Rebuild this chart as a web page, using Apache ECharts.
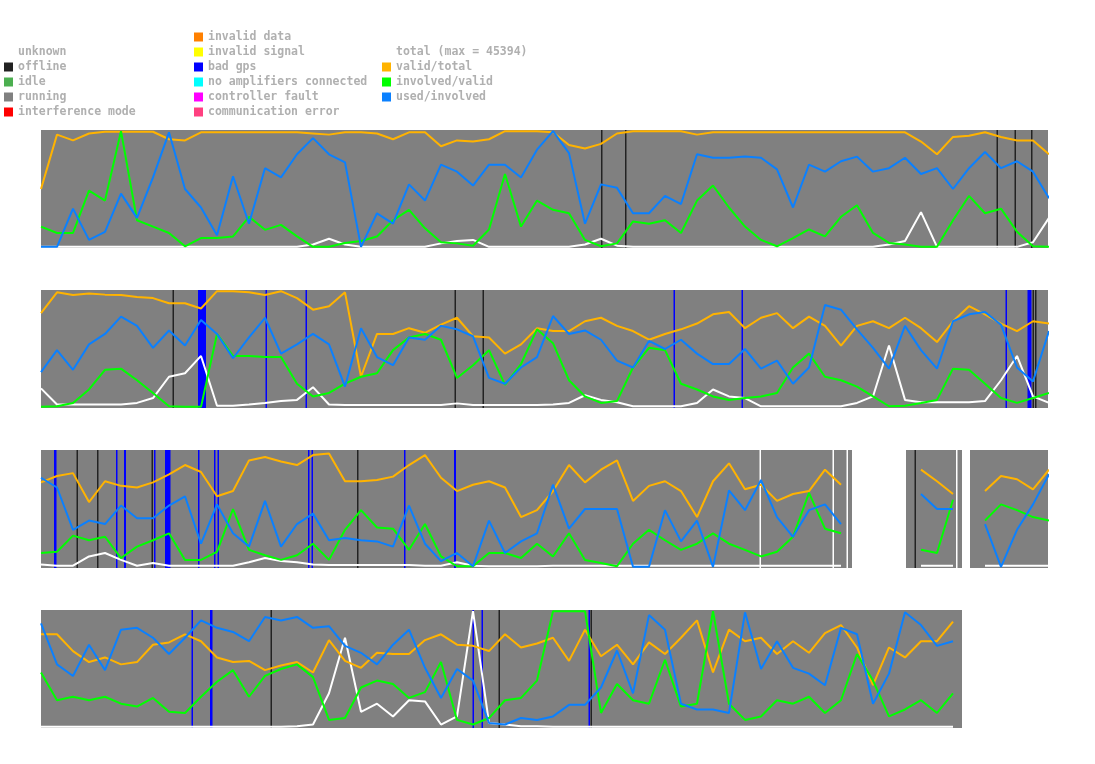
<!DOCTYPE html>
<html>
<head>
<meta charset="utf-8">
<script src="https://cdn.jsdelivr.net/npm/echarts@6/dist/echarts.min.js"></script>
<title>status</title>
</head>
<body style="margin:0;background:#fff">
<div id="main" style="width:1095px;height:764px"></div>
<script>
// sample spacing along each panel (time units)
var STEP = 16;
var SPAN = 1007;

// status names + colours (legend order)
var statusNames = ['unknown', 'offline', 'idle', 'running', 'interference mode',
  'invalid data', 'invalid signal', 'bad gps', 'no amplifiers connected', 'controller fault', 'communication error'];
var statusColors = ['#ffffff', '#222222', '#4caf50', '#808080', '#ff0000',
  '#ff8000', '#ffff00', '#0000ff', '#00ffff', '#ff00ff', '#ff4080'];

var lineNames = ['total (max = 45394)', 'valid/total', 'involved/valid', 'used/involved'];
var lineColors = ['#ffffff', '#ffb300', '#00ff00', '#0a80ff'];

// status intervals per panel [start, end]
var running = [
  [[0, 1007]],
  [[0, 1007]],
  [[0, 811], [865, 921], [929, 1007]],
  [[0, 921]]
];
var offline = [
  [[560, 561.5], [584, 585.5], [955.5, 957], [973.5, 975], [990, 991.5]],
  [[131.5, 133], [413.5, 415], [441.5, 443], [991.5, 993], [994, 995.5]],
  [[35.5, 37], [56, 57.5], [110.5, 112], [316, 317.5], [873.5, 875]],
  [[229.5, 231], [457.5, 459], [549.5, 551]]
];
var badGps = [
  [],
  [[157, 165], [224.5, 226], [264.5, 266], [632.5, 634], [700.5, 702], [964.5, 966], [986.5, 990.5]],
  [[13, 15.5], [75, 76.5], [83, 85], [113, 114.5], [124, 129.5], [157, 158.5], [173, 174.5], [176.5, 178],
   [267, 268.5], [270.5, 272], [363, 364.5], [413, 415]],
  [[150.5, 152], [169, 171.5], [431.5, 433], [440.5, 442], [547.5, 549]]
];
var unknown = [
  [], [],
  [[718.5, 720], [791.5, 793], [805.5, 807], [915, 916.5]],
  []
];

// line values (percent of panel height), one value every STEP units
var total1 = [0,0,0,0,0,0,0,0,0,0,0,0,0,0,0,0,0,2,7,2,0,0,0,0,0,3,5,6,0,0,0,0,
  0,0,2,7,1,0,0,0,0,0,0,0,0,0,0,0,0,0,0,0,0,2,5,30,0,0,0,0,0,0,4,25];
var valid1 = [50,97,92,98,99.5,99.5,99.5,99.5,93,92,99,99,99,99,99,99,99,98,97,99,99,98,93,99,99,87,92,91,93,100,100,100,
  99,88,85,89,98,100,100,100,100,97,99,99,99,99,99,99,99,99,99,99,99,99,99,91,80,95,96,99,95,92,92,80];
var involved1 = [17.5,12,12,48.6,40,100,23,17.5,12,0.5,7.6,7.6,9,26,14.7,19,9,0,0,3.4,5,9,23,32,16,4,3,1,15,63,17.5,40,
  32,29,6,0.5,3,22,20,23,12,40,53,34,17.5,6,0.5,7.6,15,9,26,36,12,3.4,2,0,0,23,44,29,33,13,0.5,0];
var used1 = [0,0,33,6,13,46,25,60,99,50,34,10,61,20,68,60,80,94,80,73,0,29,20,54,40,71,65,53,71,71,60,84,
  100,81,20,54,51,29,29,44,37,80,77,77,78,77,67,34,71,65,74,78,65,68,77,63,68,50,68,82,68,74,65,42];

var total2 = [16,2,2,2,2,2,3.4,7.6,26,29,44,1,1,2,3.4,5,6,17,2,1.5,1.5,1.5,1.5,1.5,1.5,1.5,3,1.5,1.5,1.5,1.5,1.5,
  2,3.4,10,6,4,0.5,0.5,0.5,0.5,3.4,15,9,7.6,0.5,0.5,0.5,0.5,0.5,0.5,3.4,9,53,6,4,4,4,4,5,23,44,9,3.4];
var valid2 = [81,99,96.6,98,97,96.6,95,94,89.5,89.5,85,100,100,99,96.6,100,94,84,87,99,26,63,63,68,64,71,77,61,60,46,54,68,
  65.5,65.5,74,77,70,65.5,58,63,67,72,80,82,68,77,81,68,78,70,53,70,74,68,77,68,56,74,87,80,72,65.5,74,72];
var involved2 = [0,0.5,3.4,15,32,33,23,12,0.5,0,0,63,44,44,43,43,20,9,12,20,26,29,49,60,63,58,25,36,49,19,37,67,
  55,23,9,3.4,5,34,51,49,20,15,9,6,7.6,9,12,34,46,26,23,17.5,9,0.5,1,3.4,6,33,32,20,7.6,3.4,7.6,12];
var used2 = [30,49,32,54,63,78,70,51,66,53,75,63,42,60,77,46,54,63,54,17.5,68,43,36,60,58,70,67,61,25,20,34,43,
  78.5,63,66,58,40,34,57,50,58,46,37,37,50,33,40,20,34,88,84,67,51,33,70,49,33,74,80,82,71,34,22,65.5];

var total3 = [2,1,1,9,12,6,1,3.4,1,1,1,1,1,4,7.6,5,4,2,1.5,1.5,1.5,1.5,1.5,1.5,1,1,4,1,0.5,0.5,0.5,0.5,
  1,1,1,1,1,1,1,1,1,1,1,1,1,1,1,1,1,1,1,null,null,null,null,1,1,1,null,1,1,1,1,1];
var valid3 = [73,78.5,81,56,74,70,68.6,73,80,88,82,61,65.5,92,95,91,88,96.6,98,74,74,75,78,88,96.6,77,65.5,71,74,68.6,43,49,
  65.5,88,73,84,92,57,70,74,65.5,43,74,89.5,67,71,57,63,65.5,84,71,null,null,null,null,84,74,63,null,65.5,78.5,75.7,67,84];
var involved3 = [12,13,27,23,26,7.6,17.5,23,29,6,6,13,50,14.7,10,6,10,20,6,32,49,34,33,14.7,37,9,0.5,0.5,12,12,7.6,20,
  9,29,6,3.4,0.5,20,32,23,14.7,20,29,20,14.7,9,13,26,64,33,29,null,null,null,null,14.7,12,58,null,40,54,49,43,40];
var used3 = [77,68.6,32,40,37,53,42,42,53,61,20,54,29,17.5,57,17.5,37,46,23,25,23,22,17.5,53,20,5,12,0.5,40,12,22,29,
  71,33,50,50,50,0,0,49,22,40,0,66,49,75,43,26,49,54,37,null,null,null,null,63,50,50,null,37,0,32,54,80];

var total4 = [0,0,0,0,0,0,0,0,0,0,0,0,0,0,0,0,0.5,2,29,77,13,20,9,23,22,2,9,100,3.4,2,0.5,0.5,
  0,0,0,0,0,0,0,0,0,0,0,0,0,0,0,0,0,0,0,0,0,0,0,0,0,0];
var valid4 = [80,80,65.5,56,60,54,56,71,73,80,74,60,56,57,49,53,56,47,75,57,51,64,63,63,75,80,71,70,65.5,80,68.6,72,
  77,57,84,61,71,54,73,63,77,92,47,84,74,77,63,74,64,81,88,68.6,36,68.6,60,74,74,91];
var involved4 = [47,23,26,23,26,20,17.5,25,13,12,26,39,49,26,44,50,54,43,6,7.6,34,40,37,25,30,56,6,2,7.6,23,25,40,
  100,100,100,12,37,23,20,58,17.5,20,100,20,6,9,23,20,26,12,23,63,40,9,15,23,12,29];
var used4 = [89.5,54,44,71,49,84,85.6,77,63,77,92,85.6,82,74,95,92,95,85.6,87,70,64,54,71,84,51,25,50,40,3.4,2,7.6,6,
  9,19,19,34,66,29,96.6,84,20,15,15,12,99,50,74,51,46,36,85.6,80,20,46,99,88,70,74];

var panelLines = [
  [total1, valid1, involved1, used1],
  [total2, valid2, involved2, used2],
  [total3, valid3, involved3, used3],
  [total4, valid4, involved4, used4]
];
var panelTops = [130, 290, 450, 610];

var chart = echarts.init(document.getElementById('main'));

function renderBand(params, api) {
  var a = api.coord([api.value(0), 101]);
  var b = api.coord([api.value(1), -1]);
  return {
    type: 'rect',
    shape: { x: a[0], y: a[1], width: Math.max(b[0] - a[0], 1), height: b[1] - a[1] },
    style: { fill: api.visual('color') }
  };
}

var grids = [], xAxes = [], yAxes = [], series = [];
panelTops.forEach(function (top, p) {
  grids.push({ left: 41, top: top, width: SPAN, height: 118 });
  xAxes.push({ type: 'value', gridIndex: p, min: 0, max: SPAN, show: false });
  yAxes.push({ type: 'value', gridIndex: p, min: -1, max: 101, show: false });

  var spans = { 'running': running[p], 'unknown': unknown[p], 'offline': offline[p], 'bad gps': badGps[p] };
  // running first so the other states sit on top of it
  var order = [3, 0, 1, 2, 4, 5, 6, 7, 8, 9, 10];
  order.forEach(function (s) {
    var name = statusNames[s];
    series.push({
      type: 'custom', name: name, xAxisIndex: p, yAxisIndex: p,
      renderItem: renderBand, encode: { x: [0, 1] },
      itemStyle: { color: statusColors[s] },
      data: spans[name] || [], silent: true
    });
  });

  panelLines[p].forEach(function (vals, k) {
    series.push({
      type: 'line', name: lineNames[k], xAxisIndex: p, yAxisIndex: p,
      data: vals.map(function (v, i) { return [i * STEP, v]; }),
      symbol: 'none', connectNulls: false, silent: true,
      itemStyle: { color: lineColors[k] },
      lineStyle: { width: 2, color: lineColors[k] }
    });
  });
});

var legendText = { color: '#b0b0b0', fontFamily: 'DejaVu Sans Mono', fontWeight: 'bold', fontSize: 11.5, lineHeight: 15 };
function legendCol(left, top, names) {
  return { orient: 'vertical', left: left, top: top, padding: 0, itemGap: 0, icon: 'rect',
    itemWidth: 9, itemHeight: 9, selectedMode: false, textStyle: legendText, data: names };
}

chart.setOption({
  animation: false,
  backgroundColor: '#ffffff',
  grid: grids,
  xAxis: xAxes,
  yAxis: yAxes,
  legend: [
    legendCol(4, 44.5, statusNames.slice(0, 5)),
    legendCol(194, 29.5, statusNames.slice(5)),
    legendCol(382, 44.5, lineNames)
  ],
  series: series
});
</script>
</body>
</html>
